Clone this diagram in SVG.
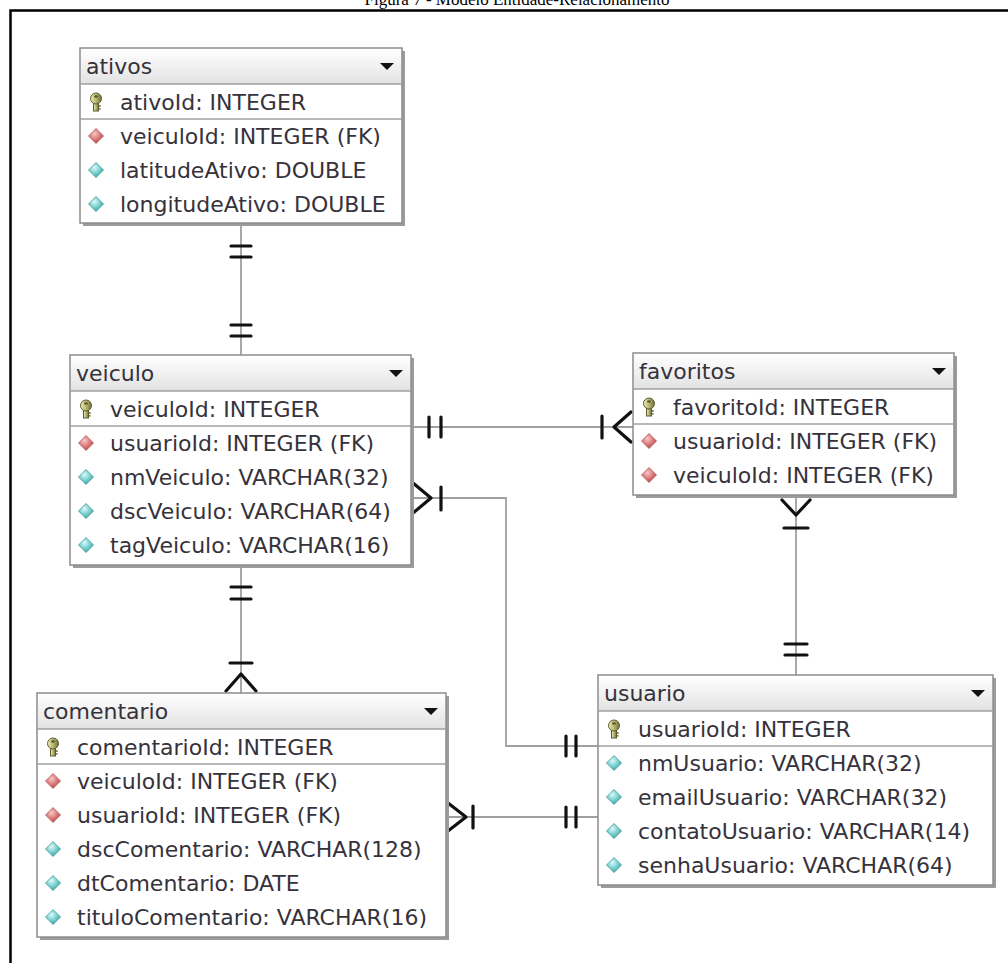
<svg xmlns="http://www.w3.org/2000/svg" xmlns:xlink="http://www.w3.org/1999/xlink" width="1008" height="963" viewBox="0 0 1008 963">
  <style>
    .caption { font-family: "Liberation Serif", "Times New Roman", serif; font-size: 17px; fill: #000; }
    .frame { fill: none; stroke: #000; stroke-width: 2.5; }
    .shadow { fill: #9c9c9c; }
    .box { fill: #fff; stroke: #8c8c8c; stroke-width: 1.5; }
    .head { fill: url(#headGrad); }
    .sep { stroke: #a0a0a0; stroke-width: 1.5; }
    .t { font-family: "DejaVu Sans", Verdana, sans-serif; font-size: 22px; fill: #36323c; }
    .drop { fill: #111; }
    .line { fill: none; stroke: #a0a0a0; stroke-width: 1.8; }
    .mark { fill: none; stroke: #111; stroke-width: 3.2; stroke-linecap: round; stroke-linejoin: round; }
  </style>
  <defs>
    <linearGradient id="headGrad" x1="0" y1="0" x2="0" y2="1">
      <stop offset="0" stop-color="#ffffff"/>
      <stop offset="1" stop-color="#e2e2e2"/>
    </linearGradient>
    <radialGradient id="fkGrad" cx="0.4" cy="0.35" r="0.7">
      <stop offset="0" stop-color="#f6c8c8"/>
      <stop offset="0.6" stop-color="#d87070"/>
      <stop offset="1" stop-color="#a84848"/>
    </radialGradient>
    <radialGradient id="colGrad" cx="0.4" cy="0.35" r="0.7">
      <stop offset="0" stop-color="#dcfafa"/>
      <stop offset="0.6" stop-color="#6cc8c8"/>
      <stop offset="1" stop-color="#3a9a9a"/>
    </radialGradient>
    <linearGradient id="keyGrad" x1="0" y1="0" x2="1" y2="0">
      <stop offset="0" stop-color="#ececb8"/>
      <stop offset="0.5" stop-color="#b8b870"/>
      <stop offset="1" stop-color="#6e6e3a"/>
    </linearGradient>
    <!-- primary key icon, centred on (0,0) -->
    <g id="key">
      <rect x="-2.5" y="0" width="5" height="9" fill="url(#keyGrad)" stroke="#5c5c30" stroke-width="1"/>
      <path d="M2.5 4 h2.2 M2.5 6.8 h2.2" stroke="#5c5c30" stroke-width="1.3"/>
      <ellipse cx="0" cy="-3.5" rx="5.5" ry="5.5" fill="url(#keyGrad)" stroke="#5c5c30" stroke-width="1"/>
      <ellipse cx="0" cy="-5.5" rx="2" ry="1.3" fill="#5c5c30"/>
    </g>
    <!-- foreign key column icon -->
    <polygon id="fk" points="0,-7.5 7.5,0 0,7.5 -7.5,0" fill="url(#fkGrad)" stroke="#b05858" stroke-width="0.8"/>
    <!-- plain column icon -->
    <polygon id="col" points="0,-7.5 7.5,0 0,7.5 -7.5,0" fill="url(#colGrad)" stroke="#3f9a9a" stroke-width="0.8"/>
  </defs>

  <rect width="1008" height="963" fill="#fff"/>

  <!-- caption, running off the top edge -->
  <text class="caption" x="517" y="5" text-anchor="middle">Figura 7 - Modelo Entidade-Relacionamento</text>
  <!-- figure frame -->
  <path class="frame" d="M10.5 975 V10.5 H1020"/>

  <!-- relationships -->
  <g id="connectors">
    <!-- ativos – veiculo -->
    <line class="line" x1="241" y1="223" x2="241" y2="355"/>
    <path class="mark" d="M231 246 H251 M231 257 H251 M231 325 H251 M231 336 H251"/>
    <!-- veiculo – favoritos -->
    <line class="line" x1="411" y1="427" x2="633" y2="427"/>
    <path class="mark" d="M429 417 V437 M441 417 V437"/>
    <path class="mark" d="M602 416 V438 M631 412 L614 427 L631 442"/>
    <!-- veiculo – usuario -->
    <path class="line" d="M411 498 H506 V746 H598"/>
    <path class="mark" d="M413 483 L431 498 L413 513 M441 487 V510"/>
    <path class="mark" d="M566 736 V756 M576 736 V756"/>
    <!-- comentario – usuario -->
    <line class="line" x1="446" y1="817" x2="598" y2="817"/>
    <path class="mark" d="M448 803 L466 817 L448 831 M473 806 V828"/>
    <path class="mark" d="M566 807 V827 M576 807 V827"/>
    <!-- veiculo – comentario -->
    <line class="line" x1="241" y1="565" x2="241" y2="693"/>
    <path class="mark" d="M231 587 H251 M231 599 H251"/>
    <path class="mark" d="M230 663 H252 M226 691 L241 674 L256 691"/>
    <!-- favoritos – usuario -->
    <line class="line" x1="796" y1="495" x2="796" y2="675"/>
    <path class="mark" d="M782 500 L796 515 L810 500 M784 528 H808"/>
    <path class="mark" d="M785 644 H807 M785 655 H807"/>
  </g>

  <!-- tables -->
  <g id="ativos" transform="translate(80,48)">
    <rect class="shadow" x="3" y="3" width="322" height="175"/>
    <rect class="box" x="0" y="0" width="322" height="175"/>
    <rect class="head" x="1" y="1" width="320" height="35"/>
    <line class="sep" x1="0" y1="36" x2="322" y2="36"/>
    <line class="sep" x1="0" y1="71" x2="322" y2="71"/>
    <polygon class="drop" points="300,15 314,15 307,22"/>
    <text class="t" x="6" y="26">ativos</text>
    <use href="#key" x="16" y="54"/>
    <text class="t" x="40" y="61.5">ativoId: INTEGER</text>
    <use href="#fk" x="16" y="88"/>
    <text class="t" x="40" y="96">veiculoId: INTEGER (FK)</text>
    <use href="#col" x="16" y="122"/>
    <text class="t" x="40" y="130">latitudeAtivo: DOUBLE</text>
    <use href="#col" x="16" y="156"/>
    <text class="t" x="40" y="164">longitudeAtivo: DOUBLE</text>
  </g>

  <g id="veiculo" transform="translate(70,355)">
    <rect class="shadow" x="3" y="3" width="341" height="210"/>
    <rect class="box" x="0" y="0" width="341" height="210"/>
    <rect class="head" x="1" y="1" width="339" height="35"/>
    <line class="sep" x1="0" y1="36" x2="341" y2="36"/>
    <line class="sep" x1="0" y1="71" x2="341" y2="71"/>
    <polygon class="drop" points="319,15 333,15 326,22"/>
    <text class="t" x="6" y="26">veiculo</text>
    <use href="#key" x="16" y="54"/>
    <text class="t" x="40" y="61.5">veiculoId: INTEGER</text>
    <use href="#fk" x="16" y="88"/>
    <text class="t" x="40" y="96">usuarioId: INTEGER (FK)</text>
    <use href="#col" x="16" y="122"/>
    <text class="t" x="40" y="130">nmVeiculo: VARCHAR(32)</text>
    <use href="#col" x="16" y="156"/>
    <text class="t" x="40" y="164">dscVeiculo: VARCHAR(64)</text>
    <use href="#col" x="16" y="190"/>
    <text class="t" x="40" y="198">tagVeiculo: VARCHAR(16)</text>
  </g>

  <g id="favoritos" transform="translate(633,353)">
    <rect class="shadow" x="3" y="3" width="321" height="142"/>
    <rect class="box" x="0" y="0" width="321" height="142"/>
    <rect class="head" x="1" y="1" width="319" height="35"/>
    <line class="sep" x1="0" y1="36" x2="321" y2="36"/>
    <line class="sep" x1="0" y1="71" x2="321" y2="71"/>
    <polygon class="drop" points="299,15 313,15 306,22"/>
    <text class="t" x="6" y="26">favoritos</text>
    <use href="#key" x="16" y="54"/>
    <text class="t" x="40" y="61.5">favoritoId: INTEGER</text>
    <use href="#fk" x="16" y="88"/>
    <text class="t" x="40" y="96">usuarioId: INTEGER (FK)</text>
    <use href="#fk" x="16" y="122"/>
    <text class="t" x="40" y="130">veiculoId: INTEGER (FK)</text>
  </g>

  <g id="comentario" transform="translate(37,693)">
    <rect class="shadow" x="3" y="3" width="409" height="244"/>
    <rect class="box" x="0" y="0" width="409" height="244"/>
    <rect class="head" x="1" y="1" width="407" height="35"/>
    <line class="sep" x1="0" y1="36" x2="409" y2="36"/>
    <line class="sep" x1="0" y1="71" x2="409" y2="71"/>
    <polygon class="drop" points="387,15 401,15 394,22"/>
    <text class="t" x="6" y="26">comentario</text>
    <use href="#key" x="16" y="54"/>
    <text class="t" x="40" y="61.5">comentarioId: INTEGER</text>
    <use href="#fk" x="16" y="88"/>
    <text class="t" x="40" y="96">veiculoId: INTEGER (FK)</text>
    <use href="#fk" x="16" y="122"/>
    <text class="t" x="40" y="130">usuarioId: INTEGER (FK)</text>
    <use href="#col" x="16" y="156"/>
    <text class="t" x="40" y="164">dscComentario: VARCHAR(128)</text>
    <use href="#col" x="16" y="190"/>
    <text class="t" x="40" y="198">dtComentario: DATE</text>
    <use href="#col" x="16" y="224"/>
    <text class="t" x="40" y="232">tituloComentario: VARCHAR(16)</text>
  </g>

  <g id="usuario" transform="translate(598,675)">
    <rect class="shadow" x="3" y="3" width="395" height="210"/>
    <rect class="box" x="0" y="0" width="395" height="210"/>
    <rect class="head" x="1" y="1" width="393" height="35"/>
    <line class="sep" x1="0" y1="36" x2="395" y2="36"/>
    <line class="sep" x1="0" y1="71" x2="395" y2="71"/>
    <polygon class="drop" points="373,15 387,15 380,22"/>
    <text class="t" x="6" y="26">usuario</text>
    <use href="#key" x="16" y="54"/>
    <text class="t" x="40" y="61.5">usuarioId: INTEGER</text>
    <use href="#col" x="16" y="88"/>
    <text class="t" x="40" y="96">nmUsuario: VARCHAR(32)</text>
    <use href="#col" x="16" y="122"/>
    <text class="t" x="40" y="130">emailUsuario: VARCHAR(32)</text>
    <use href="#col" x="16" y="156"/>
    <text class="t" x="40" y="164">contatoUsuario: VARCHAR(14)</text>
    <use href="#col" x="16" y="190"/>
    <text class="t" x="40" y="198">senhaUsuario: VARCHAR(64)</text>
  </g>
</svg>
